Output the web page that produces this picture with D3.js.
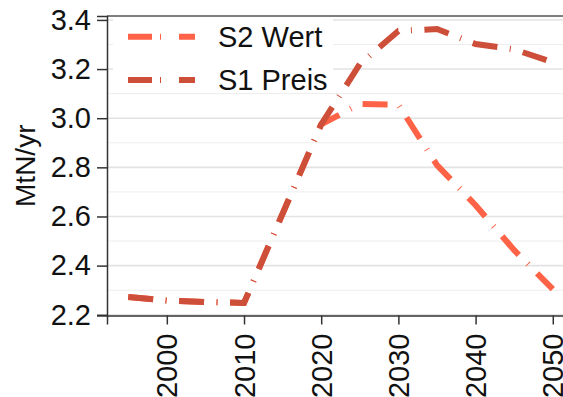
<!DOCTYPE html>
<html>
<head>
<meta charset="utf-8">
<script src="https://cdn.jsdelivr.net/npm/d3@7"></script>
<style>
  html, body { margin: 0; padding: 0; background: #fff; }
  svg { display: block; font-family: "Liberation Sans", Arial, sans-serif; }
</style>
</head>
<body>
<svg id="chart" width="563" height="397"></svg>
<script>
// Years shared by both scenarios
const years = [1995, 2000, 2005, 2010, 2020, 2025, 2030, 2035, 2040, 2045, 2050];
// Scenario values (MtN/yr)
const s1Preis = [2.272, 2.258, 2.252, 2.248, 2.975, 3.22, 3.355, 3.363, 3.302, 3.28, 3.228];
const s2Wert  = [2.272, 2.258, 2.252, 2.248, 2.975, 3.058, 3.055, 2.809, 2.646, 2.463, 2.304];
// Axis ticks
const xTicks = [2000, 2010, 2020, 2030, 2040, 2050];
const yTicks = [2.2, 2.4, 2.6, 2.8, 3.0, 3.2, 3.4];
const yMinor = [2.3, 2.5, 2.7, 2.9, 3.1, 3.3];
const seriesNames = ["S2 Wert", "S1 Preis"];
const seriesColors = ["#ff6347", "#cd4f39"];

const svg = d3.select("#chart");
const plot = { left: 107, top: 16, right: 574, bottom: 315.5 };

const x = d3.scaleLinear().domain([1992.25, 2052.75]).range([plot.left, plot.right]);
const y = d3.scaleLinear().domain([2.197, 3.416]).range([plot.bottom, plot.top]);

const fontSize = 29;
const dash = "25,12.5,1,12.5";

// Panel clip
svg.append("clipPath").attr("id", "panel")
  .append("rect")
  .attr("x", plot.left).attr("y", plot.top)
  .attr("width", plot.right - plot.left).attr("height", plot.bottom - plot.top);

// Gridlines
const grid = svg.append("g");
grid.selectAll("line.minor").data(yMinor).join("line")
  .attr("class", "minor")
  .attr("x1", plot.left).attr("x2", plot.right)
  .attr("y1", d => y(d)).attr("y2", d => y(d))
  .attr("stroke", "#ededed").attr("stroke-width", 1);
grid.selectAll("line.major").data(yTicks).join("line")
  .attr("class", "major")
  .attr("x1", plot.left).attr("x2", plot.right)
  .attr("y1", d => y(d)).attr("y2", d => y(d))
  .attr("stroke", "#e3e3e3").attr("stroke-width", 1.6);

// Legend background
const legend = svg.append("g");
legend.append("rect")
  .attr("x", 113).attr("y", plot.top + 1)
  .attr("width", 220).attr("height", 75)
  .attr("fill", "#fff");

// Lines: S2 first, S1 on top
const lineGen = d3.line().x(d => x(d[0])).y(d => y(d[1]));
const series = [
  { name: seriesNames[0], color: seriesColors[0], values: s2Wert },
  { name: seriesNames[1], color: seriesColors[1], values: s1Preis }
];
const lines = svg.append("g").attr("clip-path", "url(#panel)");
series.forEach(s => {
  lines.append("path")
    .datum(years.map((yr, i) => [yr, s.values[i]]))
    .attr("d", lineGen)
    .attr("fill", "none")
    .attr("stroke", s.color)
    .attr("stroke-width", 6)
    .attr("stroke-dasharray", dash)
    .attr("stroke-linecap", "butt");
});

// Panel border (top) and axes
svg.append("line")
  .attr("x1", plot.left).attr("x2", plot.right)
  .attr("y1", plot.top).attr("y2", plot.top)
  .attr("stroke", "#555").attr("stroke-width", 1.5);

const yAxis = svg.append("g")
  .attr("transform", `translate(${plot.left},0)`)
  .call(d3.axisLeft(y).tickValues(yTicks).tickSize(10).tickPadding(6).tickFormat(d3.format(".1f")));
yAxis.select(".domain").attr("stroke", "#333").attr("stroke-width", 1.5);
yAxis.selectAll(".tick line").attr("stroke", "#333").attr("stroke-width", 1.5);
yAxis.selectAll(".tick text")
  .attr("font-size", fontSize).attr("fill", "#111")
  .attr("font-family", "Liberation Sans, Arial, sans-serif");

const xAxis = svg.append("g")
  .attr("transform", `translate(0,${plot.bottom})`)
  .call(d3.axisBottom(x).tickValues(xTicks).tickSize(9).tickPadding(9).tickFormat(d3.format("d")));
xAxis.select(".domain").attr("stroke", "#333").attr("stroke-width", 1.5);
xAxis.selectAll(".tick line").attr("stroke", "#333").attr("stroke-width", 1.5);
xAxis.selectAll(".tick text")
  .attr("font-size", fontSize).attr("fill", "#111")
  .attr("font-family", "Liberation Sans, Arial, sans-serif")
  .attr("transform", "rotate(-90)")
  .attr("text-anchor", "end")
  .attr("x", -18).attr("y", 0).attr("dy", "0.35em");

// Y-axis title
svg.append("text")
  .attr("transform", `translate(25,${(plot.top + plot.bottom) / 2}) rotate(-90)`)
  .attr("text-anchor", "middle")
  .attr("dominant-baseline", "central")
  .attr("font-size", 28)
  .attr("fill", "#111")
  .text("MtN/yr");

// Legend entries
const keyY = [36.7, 80];
series.forEach((s, i) => {
  legend.append("line")
    .attr("x1", 128).attr("x2", 195)
    .attr("y1", keyY[i]).attr("y2", keyY[i])
    .attr("stroke", s.color)
    .attr("stroke-width", 6)
    .attr("stroke-dasharray", "24,8,1,18");
  legend.append("text")
    .attr("x", 218).attr("y", keyY[i])
    .attr("dy", "0.36em")
    .attr("font-size", fontSize)
    .attr("fill", "#111")
    .text(s.name);
});
</script>
</body>
</html>
